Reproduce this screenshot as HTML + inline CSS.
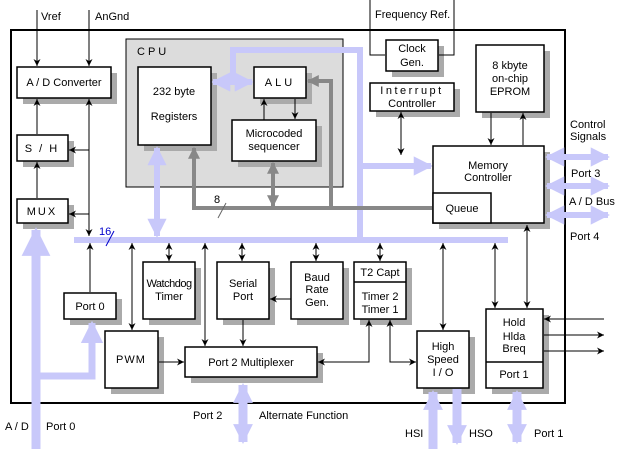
<!DOCTYPE html>
<html><head><meta charset="utf-8"><style>
html,body{margin:0;padding:0;background:#fff}
svg{display:block}
text{font-family:"Liberation Sans",Arial,sans-serif;font-size:11px;fill:#000}
</style></head><body>
<svg width="618" height="449" viewBox="0 0 618 449" xmlns="http://www.w3.org/2000/svg">
<defs>
<marker id="a" viewBox="0 0 10 10" refX="10" refY="5" markerWidth="7" markerHeight="7" markerUnits="userSpaceOnUse" orient="auto-start-reverse"><path d="M0,0L10,5L0,10L3,5z" fill="#000"/></marker>
<marker id="g" viewBox="0 0 10 10" refX="9" refY="5" markerWidth="3" markerHeight="3" orient="auto-start-reverse"><path d="M0,0L10,5L0,10z" fill="#888"/></marker>
<marker id="b" viewBox="0 0 10 10" refX="9" refY="5" markerWidth="3.2" markerHeight="3.6" orient="auto-start-reverse"><path d="M0,0L10,5L0,10z" fill="#c8c8fa"/></marker>
<marker id="c" viewBox="0 0 10 10" refX="9" refY="5" markerWidth="2.2" markerHeight="2.4" orient="auto-start-reverse"><path d="M0,0L10,5L0,10z" fill="#c8c8fa"/></marker>
</defs>
<rect x="11" y="30" width="554" height="373" fill="#fff" stroke="#000" stroke-width="2"/>
<rect x="126" y="39" width="217" height="148" fill="#dcdcdc" stroke="#000"/>
<text x="137" y="55" letter-spacing="3">CPU</text>

<g fill="#aaa">
<rect x="23" y="73" width="94" height="31"/><rect x="23" y="141" width="51" height="26"/><rect x="23" y="205" width="51" height="24"/>
<rect x="144" y="73" width="73" height="78"/><rect x="260" y="73" width="52" height="31"/><rect x="238" y="126" width="84" height="41"/>
<rect x="392" y="46" width="52" height="31"/><rect x="376" y="89" width="84" height="28"/><rect x="482" y="51" width="68" height="67"/>
<rect x="439" y="152" width="111" height="77"/>
<rect x="70" y="299" width="52" height="26"/><rect x="111" y="337" width="53" height="57"/><rect x="149" y="268" width="52" height="57"/>
<rect x="223" y="268" width="52" height="57"/><rect x="297" y="268" width="52" height="57"/><rect x="360" y="268" width="52" height="57"/>
<rect x="191" y="353" width="132" height="30"/><rect x="423" y="337" width="52" height="57"/><rect x="492" y="315" width="57" height="79"/>
</g>

<g stroke="#c8c8fa" fill="none" stroke-width="6">
<line x1="74" y1="240" x2="508" y2="240"/>
<polyline points="233,82 233,50 360,50 360,240"/>
<line x1="213" y1="82" x2="252" y2="82" marker-start="url(#b)" marker-end="url(#b)"/>
<line x1="157" y1="148" x2="157" y2="236" marker-start="url(#b)" marker-end="url(#b)"/>
<line x1="360" y1="166" x2="431" y2="166" marker-end="url(#b)"/>
<line x1="547" y1="157" x2="608" y2="157" marker-start="url(#b)" marker-end="url(#b)"/>
<line x1="547" y1="186" x2="608" y2="186" marker-start="url(#b)" marker-end="url(#b)"/>
<line x1="547" y1="215" x2="608" y2="215" marker-start="url(#b)" marker-end="url(#b)"/>
<polyline points="36,449 36,230" stroke-width="9" marker-end="url(#b)"/>
<polyline points="36,376 92,376 92,323" stroke-width="7" marker-end="url(#b)"/>
</g>

<g stroke="#888" fill="none" stroke-width="4">
<polyline points="194,148 194,208 432,208" marker-start="url(#g)"/>
<polyline points="331,208 331,81 308,81" marker-end="url(#g)"/>
<line x1="273" y1="163" x2="273" y2="206" marker-start="url(#g)" marker-end="url(#g)"/>
</g>
<line x1="218" y1="218" x2="226" y2="203" stroke="#666"/>
<text x="214" y="203" font-size="10">8</text>
<text x="99" y="235" font-size="10" style="fill:#00c">16</text>
<line x1="106" y1="246" x2="114" y2="231" stroke="#00c"/>

<g stroke="#000" stroke-width="1" fill="none">
<line x1="37" y1="10" x2="37" y2="66" marker-end="url(#a)"/>
<line x1="89" y1="10" x2="89" y2="66" marker-end="url(#a)"/>
<line x1="37" y1="134" x2="37" y2="99" marker-end="url(#a)"/>
<line x1="37" y1="198" x2="37" y2="162" marker-end="url(#a)"/>
<line x1="89" y1="99" x2="89" y2="236" marker-start="url(#a)" marker-end="url(#a)"/>
<line x1="89" y1="150" x2="69" y2="150" marker-end="url(#a)"/>
<line x1="89" y1="214" x2="69" y2="214" marker-end="url(#a)"/>
<line x1="264" y1="120" x2="264" y2="99" marker-end="url(#a)"/>
<line x1="295" y1="99" x2="295" y2="119" marker-end="url(#a)"/>
<polyline points="370,0 370,55 385,55"/>
<polyline points="454,0 454,55 439,55"/>
<line x1="401" y1="112" x2="401" y2="155" marker-start="url(#a)" marker-end="url(#a)"/>
<line x1="491" y1="113" x2="491" y2="145" marker-end="url(#a)"/>
<line x1="523" y1="145" x2="523" y2="113" marker-end="url(#a)"/>
<line x1="90" y1="292" x2="90" y2="243" marker-end="url(#a)"/>
<line x1="132" y1="243" x2="132" y2="330" marker-start="url(#a)" marker-end="url(#a)"/>
<line x1="169" y1="243" x2="169" y2="261" marker-start="url(#a)" marker-end="url(#a)"/>
<line x1="205" y1="243" x2="205" y2="346" marker-start="url(#a)" marker-end="url(#a)"/>
<line x1="242" y1="243" x2="242" y2="261" marker-start="url(#a)" marker-end="url(#a)"/>
<line x1="316" y1="243" x2="316" y2="261" marker-start="url(#a)" marker-end="url(#a)"/>
<line x1="380" y1="243" x2="380" y2="261" marker-start="url(#a)" marker-end="url(#a)"/>
<line x1="443" y1="243" x2="443" y2="330" marker-start="url(#a)" marker-end="url(#a)"/>
<line x1="495" y1="243" x2="495" y2="308" marker-start="url(#a)" marker-end="url(#a)"/>
<line x1="527" y1="225" x2="527" y2="308" marker-start="url(#a)" marker-end="url(#a)"/>
<line x1="243" y1="320" x2="243" y2="346" marker-end="url(#a)"/>
<line x1="291" y1="299" x2="270" y2="299" marker-end="url(#a)"/>
<line x1="159" y1="362" x2="184" y2="362" marker-end="url(#a)"/>
<polyline points="369,320 369,362 318,362" marker-start="url(#a)" marker-end="url(#a)"/>
<polyline points="390,320 390,362 416,362" marker-start="url(#a)" marker-end="url(#a)"/>
<line x1="604" y1="319" x2="544" y2="319" marker-end="url(#a)"/>
<line x1="544" y1="335" x2="604" y2="335" marker-end="url(#a)"/>
<line x1="544" y1="351" x2="604" y2="351" marker-end="url(#a)"/>
</g>

<g fill="#fff" stroke="#000" stroke-width="1.5">
<rect x="17" y="67" width="94" height="31"/><rect x="17" y="135" width="51" height="26"/><rect x="17" y="199" width="51" height="24"/>
<rect x="138" y="67" width="73" height="78"/><rect x="254" y="67" width="52" height="31"/><rect x="232" y="120" width="84" height="41"/>
<rect x="386" y="40" width="52" height="31"/><rect x="370" y="83" width="84" height="28"/><rect x="476" y="45" width="68" height="67"/>
<rect x="433" y="146" width="111" height="77"/><rect x="433" y="193" width="58" height="30"/>
<rect x="64" y="293" width="52" height="26"/><rect x="105" y="331" width="53" height="57"/><rect x="143" y="262" width="52" height="57"/>
<rect x="217" y="262" width="52" height="57"/><rect x="291" y="262" width="52" height="57"/><rect x="354" y="262" width="52" height="57"/>
<line x1="354" y1="282" x2="406" y2="282"/>
<rect x="185" y="347" width="132" height="30"/><rect x="417" y="331" width="52" height="57"/><rect x="486" y="309" width="57" height="79"/>
<line x1="486" y1="362" x2="543" y2="362"/>
</g>

<g stroke="#c8c8fa" fill="none" stroke-width="9">
<line x1="243" y1="385" x2="243" y2="442" marker-start="url(#c)" marker-end="url(#c)"/>
<line x1="433" y1="449" x2="433" y2="392" marker-end="url(#c)"/>
<line x1="457" y1="389" x2="457" y2="443" marker-end="url(#c)"/>
<line x1="517" y1="392" x2="517" y2="442" marker-start="url(#c)" marker-end="url(#c)"/>
</g>

<g text-anchor="middle">
<text x="64" y="86">A / D Converter</text>
<text x="42" y="152" letter-spacing="2">S / H</text>
<text x="42" y="215" letter-spacing="2">MUX</text>
<text x="174" y="95">232 byte</text>
<text x="174" y="120">Registers</text>
<text x="280" y="86" letter-spacing="3">ALU</text>
<text x="274" y="137">Microcoded</text>
<text x="274" y="150">sequencer</text>
<text x="412" y="52">Clock</text>
<text x="412" y="66">Gen.</text>
<text x="412" y="94" letter-spacing="2.5">Interrupt</text>
<text x="412" y="107">Controller</text>
<text x="510" y="69">8 kbyte</text>
<text x="510" y="82">on-chip</text>
<text x="510" y="95">EPROM</text>
<text x="488" y="169">Memory</text>
<text x="488" y="181">Controller</text>
<text x="462" y="212">Queue</text>
<text x="90" y="310">Port 0</text>
<text x="131" y="363" letter-spacing="1">PWM</text>
<text x="169" y="287" letter-spacing="-0.5">Watchdog</text>
<text x="169" y="300">Timer</text>
<text x="243" y="287">Serial</text>
<text x="243" y="300">Port</text>
<text x="317" y="281">Baud</text>
<text x="317" y="293">Rate</text>
<text x="317" y="306">Gen.</text>
<text x="380" y="276">T2 Capt</text>
<text x="380" y="300">Timer 2</text>
<text x="380" y="313">Timer 1</text>
<text x="251" y="366">Port 2 Multiplexer</text>
<text x="443" y="350">High</text>
<text x="443" y="363">Speed</text>
<text x="443" y="376">I / O</text>
<text x="514" y="326">Hold</text>
<text x="514" y="340">Hlda</text>
<text x="514" y="352">Breq</text>
<text x="514" y="378">Port 1</text>
</g>
<text x="41" y="20">Vref</text>
<text x="95" y="20">AnGnd</text>
<text x="375" y="18">Frequency Ref.</text>
<text x="570" y="128">Control</text>
<text x="570" y="140">Signals</text>
<text x="571" y="177">Port 3</text>
<text x="569" y="205">A / D Bus</text>
<text x="570" y="240">Port 4</text>
<text x="193" y="419">Port 2</text>
<text x="259" y="419">Alternate Function</text>
<text x="5" y="430">A / D</text>
<text x="46" y="430">Port 0</text>
<text x="405" y="437">HSI</text>
<text x="469" y="437">HSO</text>
<text x="534" y="437">Port 1</text>
</svg>
</body></html>
